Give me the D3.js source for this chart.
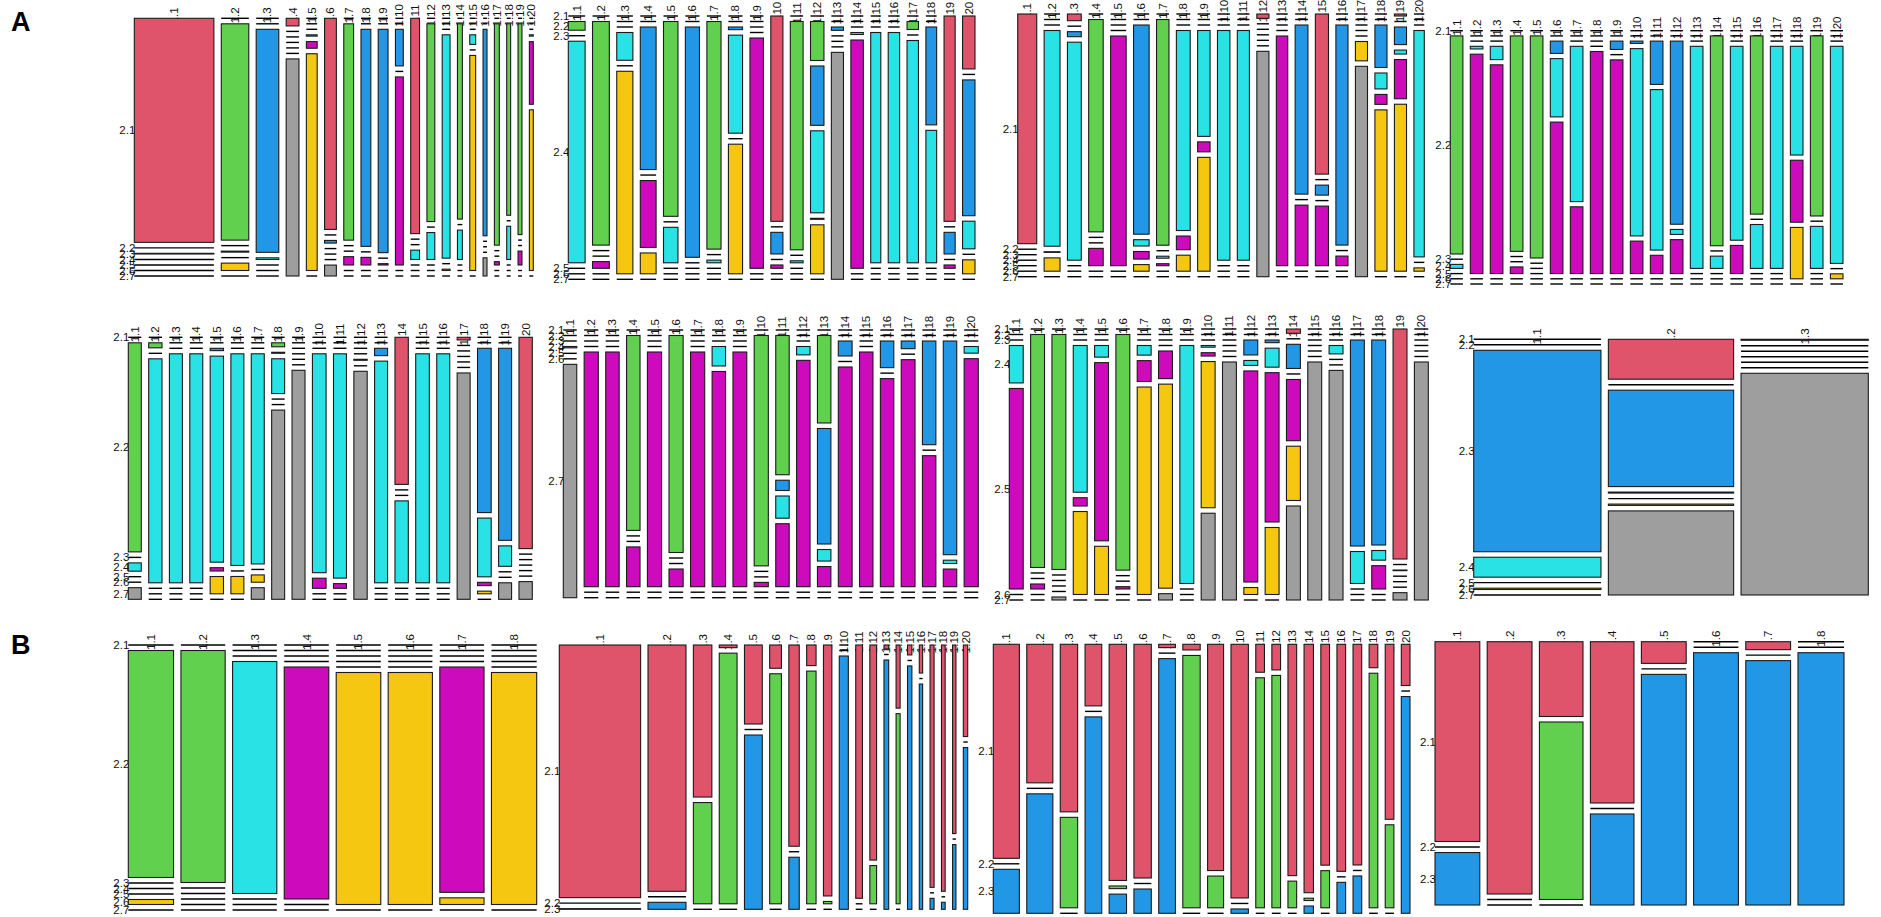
<!DOCTYPE html>
<html><head><meta charset="utf-8">
<script src="https://cdn.jsdelivr.net/npm/d3@7"></script>
<style>
body{margin:0;background:#fff}
svg{display:block}
text{font-family:"Liberation Sans",Arial,Helvetica,sans-serif}
</style>
</head><body>
<svg id="chart" width="1881" height="917"></svg>
<script>
// ---------------- DATA ----------------
const rows7 = ["2.1","2.2","2.3","2.4","2.5","2.6","2.7"];
const rows3 = ["2.1","2.2","2.3"];
const cols20 = ["1.1","1.2","1.3","1.4","1.5","1.6","1.7","1.8","1.9","1.10","1.11","1.12","1.13","1.14","1.15","1.16","1.17","1.18","1.19","1.20"];
const cols8 = ["1.1","1.2","1.3","1.4","1.5","1.6","1.7","1.8"];
const cols3 = ["1.1","1.2","1.3"];

// colour code per cell: r red, g green, b blue, c cyan, m magenta, y yellow, k grey, . empty
const palette = {r:"#DF536B", g:"#61D04F", b:"#2297E6", c:"#28E2E5", m:"#CD0BBC", y:"#F5C710", k:"#9E9E9E"};

// Panel A, row 1, plot 1
const a1Weights = [81,28,23,13,11,12,10,10,10,8,9,8,8,5,6,4,5,4,4,4];
const a1Counts = [[668,0,2,0,0,0,0],[0,646,0,3,0,22,0],[0,0,664,5,0,0,0],[23,0,0,0,0,0,656],[0,0,0,4,20,655,0],
 [638,0,8,0,0,0,33],[0,648,0,0,25,0,0],[0,0,654,0,23,0,0],[0,0,669,0,4,0,0],[0,0,110,0,565,0,0],
 [645,0,0,28,0,0,0],[0,595,0,81,0,0,0],[0,0,0,671,0,4,0],[0,591,0,89,0,0,0],[0,0,0,29,0,647,0],
 [0,0,624,0,0,0,55],[0,663,0,0,10,0,0],[0,576,0,100,0,0,0],[0,636,0,0,42,0,0],[0,0,0,4,188,482,0]];
const a1Colors = ["r.b....",".g.c.y.","..bc...","r.....k","...cmy.","r.b...k",".g..m..","..b.m..","..b.m..","..b.m..",
 "r..c...",".g.c...","...c.y.",".g.c...","...c.y.","..b...k",".g..m..",".g.c...",".g..m..","...cmy."];

// Panel A, row 1, plot 2
const a2Weights = [50,50,48,47,43,42,42,42,40,36,38,40,36,37,30,34,34,32,33,37];
const a2Counts = [[0,26,0,661,0,0,0],[0,669,0,0,20,0,0],[0,0,0,83,0,605,0],[0,0,424,0,199,62,0],[0,582,0,106,0,0,0],
 [0,0,688,0,0,0,0],[0,676,0,8,0,0,0],[0,0,8,295,0,390,0],[0,0,0,0,688,0,0],[617,0,65,0,10,0,0],
 [0,679,0,6,0,0,0],[0,117,178,246,3,147,0],[0,0,10,0,0,0,676],[0,0,0,6,685,0,0],[0,0,0,689,0,0,0],
 [0,0,0,693,0,0,0],[0,24,0,668,0,0,0],[0,0,294,398,0,0,0],[617,0,65,0,10,0,0],[159,0,408,83,0,42,0]];
const a2Colors = [".g.c...",".g..m..","...c.y.","..b.my.",".g.c...","..b....",".g.c...","..bc.y.","....m..","r.b.m..",
 ".g.c...",".gbcmy.","..b...k","...cm..","...c...","...c...",".g.c...","..bc...","r.b.m..","r.bc.y."];

// Panel A, row 1, plot 3
const a3Weights = [55,46,40,42,45,45,36,40,36,36,35,35,33,37,38,35,35,35,35,30];
const a3Counts = [[686,0,0,0,0,0,0],[0,0,0,648,2,40,0],[20,0,15,653,0,0,0],[0,637,0,0,52,0,0],[0,0,0,0,690,0,0],
 [0,0,633,19,23,20,0],[0,678,0,6,6,0,0],[0,0,0,600,41,48,0],[0,0,0,318,30,342,0],[0,0,0,692,0,0,0],
 [0,0,0,688,0,0,0],[13,0,0,0,0,0,678],[0,0,0,0,690,0,0],[0,0,508,0,182,0,0],[481,0,30,0,179,0,0],
 [0,0,663,0,29,0,0],[0,0,0,0,0,58,631],[0,0,128,48,30,486,0],[6,0,53,12,118,503,0],[0,0,0,683,0,10,0]];
const a3Colors = ["r......","...cmy.","r.bc...",".g..m..","....m..","..bcmy.",".g.cm..","...cmy.","...cmy.","...c...",
 "...c...","r.....k","....m..","..b.m..","r.b.m..","..b.m..",".....yk","..bcmy.","r.bcmy.","...c.y."];

// Panel A, row 1, plot 4
const a4Weights = [38,38,38,38,38,38,38,38,38,38,38,38,38,38,38,38,38,38,38,38];
const a4Counts = [[0,653,0,12,0,0,0],[0,0,0,8,657,0,0],[0,0,0,40,627,0,0],[0,646,0,0,20,0,0],[0,663,0,0,0,0,0],
 [0,0,37,175,455,0,0],[0,0,0,465,200,0,0],[0,0,0,0,667,0,0],[0,0,25,0,640,0,0],[0,0,7,565,98,0,0],
 [0,0,130,482,55,0,0],[0,0,550,15,102,0,0],[0,0,0,666,0,0,0],[0,633,0,37,0,0,0],[0,0,0,585,85,0,0],
 [0,536,0,132,0,0,0],[0,0,0,666,0,0,0],[0,0,0,328,187,155,0],[0,540,0,126,0,0,0],[0,0,0,653,0,15,0]];
const a4Colors = [".g.c...","...cm..","...cm..",".g..m..",".g.....","..bcm..","...cm..","....m..","..b.m..","..bcm..",
 "..bcm..","..bcm..","...c...",".g.c...","...cm..",".g.c...","...c...","...cmy.",".g.c...","...c.y."];

// Panel A, row 2, plot 1
const a5Weights = [38,39,38,38,39,38,38,38,38,40,38,39,38,39,40,38,38,40,38,39];
const a5Counts = [[0,630,0,25,0,0,35],[0,15,0,668,0,0,0],[0,0,0,688,0,0,0],[0,0,0,688,0,0,0],[0,0,7,620,10,52,0],
 [0,0,0,635,0,52,0],[0,0,0,635,0,22,35],[0,12,3,105,0,0,571],[0,0,0,0,0,0,688],[0,0,0,650,30,0,0],
 [0,0,0,670,14,0,0],[0,0,0,0,3,0,688],[0,0,22,665,0,0,0],[440,0,0,245,0,0,0],[0,0,0,688,0,0,0],
 [0,0,0,688,0,0,0],[8,0,0,0,0,0,685],[0,0,495,177,10,8,0],[0,0,582,62,0,0,50],[633,0,0,0,0,0,53]];
const a5Colors = [".g.c..k",".g.c...","...c...","...c...","..bcmy.","...c.y.","...c.yk",".gbc..k","......k","...cm..",
 "...cm..","....m.k","..bc...","r..c...","...c...","...c...","r.....k","..bcmy.","..bc..k","r.....k"];

// Panel A, row 2, plot 2
const a6Weights = [38,40,38,38,40,40,40,38,39,40,38,38,38,39,38,38,39,38,38,40];
const a6Counts = [[0,0,0,4,0,0,700],[0,0,0,0,705,0,0],[0,0,0,0,705,0,0],[0,588,0,0,120,0,0],[0,0,0,0,701,0,0],
 [0,650,0,0,53,0,0],[0,0,0,0,705,0,0],[0,0,0,58,641,0,0],[0,0,0,0,705,0,0],[0,693,0,0,13,0,0],
 [0,420,31,67,190,0,0],[0,0,0,25,678,0,0],[0,265,350,35,61,0,0],[0,0,45,0,660,0,0],[0,0,0,0,701,0,0],
 [0,0,80,0,625,0,0],[0,0,23,0,681,0,0],[0,0,311,0,393,0,0],[0,0,641,10,53,0,0],[0,0,0,20,685,0,0]];
const a6Colors = ["...c..k","....m..","....m..",".g..m..","....m..",".g..m..","....m..","...cm..","....m..",".g..m..",
 ".gbcm..","...cm..",".gbcm..","..b.m..","....m..","..b.m..","..b.m..","..b.m..","..bcm..","...cm.."];

// Panel A, row 2, plot 3
const a7Weights = [40,40,40,40,40,40,40,40,40,40,40,40,40,40,40,40,40,40,40,40];
const a7Counts = [[0,0,0,112,600,0,0],[0,697,0,0,15,0,0],[0,700,0,0,0,0,9],[0,0,0,442,25,250,0],[0,0,0,35,536,145,0],
 [0,703,0,0,7,0,0],[0,0,0,29,63,625,0],[0,0,0,0,83,613,19],[0,0,0,710,0,0,0],[0,0,0,5,10,433,257],
 [0,0,0,0,0,0,702],[0,0,45,15,635,21,0],[0,0,8,57,448,201,0],[13,0,73,0,185,164,284],[0,0,0,0,0,0,714],
 [0,0,0,25,0,0,684],[0,0,612,95,0,0,0],[0,0,615,29,70,0,0],[691,0,2,0,0,0,22],[0,0,0,0,0,0,710]];
const a7Colors = ["...cm..",".g..m..",".g....k","...cmy.","...cmy.",".g..m..","...cmy.","....myk","...c...","...cmyk",
 "......k","..bcmy.","..bcmy.","r.b.myk","......k","...c..k","..bc...","..bcm..","r.b...k","......k"];

// Panel A, row 2, plot 4
const a8Weights = [382,376,382];
const a8Counts = [[0,0,606,60,0,4,0],[120,0,290,3,0,4,253],[3,0,0,0,0,0,673]];
const a8Colors = ["..bc.y.","r.bc.yk","r.....k"];

// Panel B, plot 1
const b1Weights = [135,132,132,133,133,132,132,135];
const b1Counts = [[0,680,0,0,0,15,0],[0,696,0,0,0,0,0],[0,0,0,697,0,0,0],[0,0,0,0,693,0,0],
 [0,0,0,0,0,695,0],[0,0,0,0,0,695,0],[0,0,0,0,677,20,0],[0,0,0,0,0,695,0]];
const b1Colors = [".g...y.",".g.....","...c...","....m..",".....y.",".....y.","....my.",".....y."];

// Panel B, plot 2
const b2Weights = [242,113,55,53,53,35,31,28,25,27,20,20,14,12,13,10,12,11,10,13];
const b2Counts = [[758,0,2],[740,0,21],[455,303,0],[8,753,0],[238,0,525],[70,692,0],[603,0,156],[62,700,0],[750,7,0],[0,0,758],
 [750,0,0],[647,115,0],[12,0,748],[190,572,0],[30,0,735],[84,0,675],[730,0,33],[740,0,21],[568,0,195],[275,0,486]];
const b2Colors = ["r.b","r.b","rg.","rg.","r.b","rg.","r.b","rg.","rg.","..b",
 "r..","rg.","r.b","rg.","r.b","r.b","r.b","r.b","r.b","r.b"];

// Panel B, plot 3
const b3Weights = [75,75,50,48,50,50,48,50,46,50,25,25,25,27,25,25,25,25,25,25];
const b3Counts = [[642,0,132],[414,0,357],[502,271,0],[185,0,590],[714,8,58],[702,0,73],[10,0,765],[17,758,0],[677,95,0],[759,0,13],
 [84,691,0],[77,698,0],[694,80,0],[750,7,22],[660,111,0],[682,0,93],[662,0,112],[70,701,0],[527,250,0],[124,0,652]];
const b3Colors = ["r.b","r.b","rg.","r.b","rgb","r.b","r.b","rg.","rg.","r.b",
 "rg.","rg.","rg.","rgb","rg.","r.b","r.b","rg.","rg.","r.b"];

// Panel B, plot 4
const b4Weights = [37,37,36,36,37,37,37,38];
const b4Counts = [[198,0,52],[254,0,0],[75,178,0],[163,0,92],[22,0,234],[0,0,254],[8,0,246],[0,0,254]];
const b4Colors = ["r.b","r..","rg.","r.b","r.b","..b","r.b","..b"];

// ---------------- LAYOUT (pixel boxes: left, right, top, bottom) ----------------
const panels = [
  {w:a1Weights, n:a1Counts, c:a1Colors, cols:cols20, rows:rows7, box:[134.3,533.3,18.3,276]},
  {w:a2Weights, n:a2Counts, c:a2Colors, cols:cols20, rows:rows7, box:[568.3,975,16,279.3]},
  {w:a3Weights, n:a3Counts, c:a3Colors, cols:cols20, rows:rows7, box:[1017.7,1424.3,14,276.7]},
  {w:a4Weights, n:a4Counts, c:a4Colors, cols:cols20, rows:rows7, box:[1450.3,1843,30.7,284], gy:5.2},
  {w:a5Weights, n:a5Counts, c:a5Colors, cols:cols20, rows:rows7, box:[128.3,532.3,337.3,599.3]},
  {w:a6Weights, n:a6Counts, c:a6Colors, cols:cols20, rows:rows7, box:[563.3,978.3,330,597.7]},
  {w:a7Weights, n:a7Counts, c:a7Colors, cols:cols20, rows:rows7, box:[1009.3,1428.3,329,600]},
  {w:a8Weights, n:a8Counts, c:a8Colors, cols:cols3, rows:rows7, box:[1473.7,1868.3,339.3,595]},
  {w:b1Weights, n:b1Counts, c:b1Colors, cols:cols8, rows:rows7, box:[128.3,536.7,645,910]},
  {w:b2Weights, n:b2Counts, c:b2Colors, cols:cols20, rows:rows3, box:[559.3,967.7,645,909.3]},
  {w:b3Weights, n:b3Counts, c:b3Colors, cols:cols20, rows:rows3, box:[993.3,1410,644.3,913.3]},
  {w:b4Weights, n:b4Counts, c:b4Colors, cols:cols8, rows:rows3, box:[1435,1844,641.7,905]}
];

const svg = d3.select("#chart");
const GAPX = 7.4, GAPY = 5.5;

panels.forEach(p => {
  const [x0, x1, y0, y1] = p.box;
  const gy = p.gy || GAPY;
  const nc = p.w.length, nr = p.rows.length;
  const g = svg.append("g");
  const wTot = d3.sum(p.w);
  const xs = d3.scaleLinear().domain([0, wTot]).range([0, (x1 - x0) - GAPX * (nc - 1)]);
  const cumW = d3.cumsum([0, ...p.w]);

  const layout = p.n.map((col, i) => {
    const left = x0 + xs(cumW[i]) + i * GAPX;
    const right = left + xs(p.w[i]) - xs(0);
    const ys = d3.scaleLinear().domain([0, d3.sum(col)]).range([0, (y1 - y0) - gy * (nr - 1)]);
    const cumH = d3.cumsum([0, ...col]);
    const cells = col.map((v, j) => {
      const top = y0 + ys(cumH[j]) + j * gy;
      return {v, top, h: ys(v) - ys(0), code: p.c[i][j]};
    });
    return {left, right, cells, label: p.cols[i]};
  });

  // column labels (behind cells)
  g.selectAll("text.col").data(layout).join("text")
    .attr("class", "col")
    .attr("transform", d => `translate(${(d.left + d.right) / 2 + 4},${y0 - 3}) rotate(-90)`)
    .attr("text-anchor", "middle")
    .attr("font-size", 11.5)
    .attr("fill", "#111")
    .text(d => d.label);

  // row labels from the first column (behind cells)
  g.selectAll("text.row").data(layout[0].cells).join("text")
    .attr("class", "row")
    .attr("x", x0 + 1)
    .attr("y", d => d.top + d.h / 2)
    .attr("dy", "0.35em")
    .attr("text-anchor", "end")
    .attr("font-size", 11.5)
    .attr("fill", "#111")
    .text((d, j) => p.rows[j]);

  layout.forEach(col => {
    col.cells.forEach(cell => {
      if (cell.v > 0) {
        g.append("rect")
          .attr("x", col.left).attr("y", cell.top)
          .attr("width", col.right - col.left).attr("height", Math.max(cell.h, 0.4))
          .attr("fill", palette[cell.code] || "#ccc")
          .attr("stroke", "#1b1b1b").attr("stroke-width", 1.1);
      } else {
        g.append("line")
          .attr("x1", col.left).attr("x2", col.right)
          .attr("y1", cell.top).attr("y2", cell.top)
          .attr("stroke", "#000").attr("stroke-width", 1.4);
      }
    });
  });
});

// panel letters
svg.append("text").attr("x", 11).attr("y", 31).attr("font-size", 27).attr("font-weight", "bold").text("A");
svg.append("text").attr("x", 11).attr("y", 654).attr("font-size", 27).attr("font-weight", "bold").text("B");
</script>
</body></html>
